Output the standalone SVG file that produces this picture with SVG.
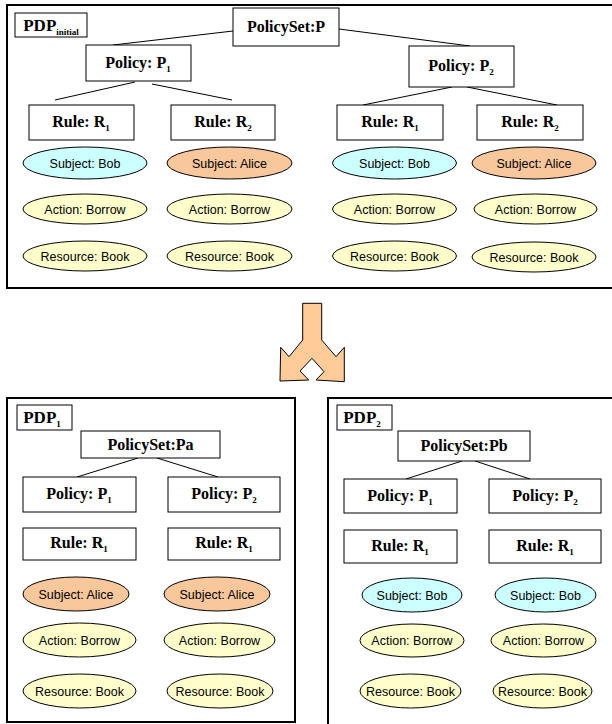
<svg xmlns="http://www.w3.org/2000/svg" width="612" height="724" viewBox="0 0 612 724">
<style>
.frame{fill:none;stroke:#000;stroke-width:2}
.box{fill:#fff;stroke:#000;stroke-width:1}
.bt{font-family:"Liberation Serif",serif;font-weight:bold;font-size:16px;text-anchor:middle;fill:#000}
.sub{font-size:9px}
.et{font-family:"Liberation Sans",Arial,sans-serif;font-size:12.5px;text-anchor:middle;fill:#000}
.bob{fill:#ccffff;stroke:#000;stroke-width:1}
.alice{fill:#f9c79c;stroke:#000;stroke-width:1}
.attr{fill:#ffffcc;stroke:#000;stroke-width:1}
.conn{stroke:#000;stroke-width:1;fill:none}
</style>
<rect width="612" height="724" fill="#fff"/>

<!-- frames -->
<rect class="frame" x="7" y="5" width="610" height="283"/>
<rect class="frame" x="7" y="398" width="288" height="324"/>
<rect class="frame" x="328" y="398" width="290" height="340"/>

<!-- connectors -->
<g id="connectors">
<line class="conn" x1="233" y1="31" x2="113" y2="45"/>
<line class="conn" x1="339" y1="29" x2="470" y2="46"/>
<line class="conn" x1="135" y1="82" x2="55" y2="100"/>
<line class="conn" x1="152" y1="84" x2="232" y2="100"/>
<line class="conn" x1="452" y1="87" x2="363" y2="105"/>
<line class="conn" x1="467" y1="87" x2="557" y2="105"/>
<line class="conn" x1="138" y1="458" x2="77" y2="477"/>
<line class="conn" x1="157" y1="458" x2="218" y2="477"/>
<line class="conn" x1="462" y1="461" x2="406" y2="479"/>
<line class="conn" x1="475" y1="461" x2="530" y2="479"/>
</g>

<!-- top PDP -->
<g id="pdp-initial-label">
<rect class="box" x="15" y="13" width="72" height="24"/>
<text class="bt" x="51" y="31" style="font-size:17px">PDP<tspan class="sub" dy="4">initial</tspan></text>
</g>
<g id="policyset-p">
<rect class="box" x="233" y="8" width="106" height="38"/>
<text class="bt" x="286" y="32">PolicySet:P</text>
</g>
<g id="policy-p1">
<rect class="box" x="86" y="45" width="105" height="36"/>
<text class="bt" x="138" y="68">Policy: P<tspan class="sub" dy="4">1</tspan></text>
</g>
<g id="policy-p2">
<rect class="box" x="409" y="46" width="105" height="41"/>
<text class="bt" x="461" y="71">Policy: P<tspan class="sub" dy="4">2</tspan></text>
</g>
<g id="rule-a1">
<rect class="box" x="29" y="105" width="105" height="35"/>
<text class="bt" x="81" y="127">Rule: R<tspan class="sub" dy="4">1</tspan></text>
</g>
<g id="rule-a2">
<rect class="box" x="171" y="105" width="104" height="35"/>
<text class="bt" x="223" y="127">Rule: R<tspan class="sub" dy="4">2</tspan></text>
</g>
<g id="rule-b1">
<rect class="box" x="337" y="105" width="106" height="35"/>
<text class="bt" x="390" y="127">Rule: R<tspan class="sub" dy="4">1</tspan></text>
</g>
<g id="rule-b2">
<rect class="box" x="477" y="105" width="106" height="35"/>
<text class="bt" x="530" y="127">Rule: R<tspan class="sub" dy="4">2</tspan></text>
</g>

<g id="subj-a1"><ellipse class="bob" cx="85" cy="163" rx="62" ry="16"/><text class="et" x="85" y="167.5">Subject: Bob</text></g>
<g id="subj-a2"><ellipse class="alice" cx="229.5" cy="163" rx="62.5" ry="16"/><text class="et" x="229.5" y="167.5">Subject: Alice</text></g>
<g id="subj-b1"><ellipse class="bob" cx="394.5" cy="163" rx="62" ry="16"/><text class="et" x="394.5" y="167.5">Subject: Bob</text></g>
<g id="subj-b2"><ellipse class="alice" cx="534" cy="163" rx="62" ry="16"/><text class="et" x="534" y="167.5">Subject: Alice</text></g>

<g id="act-a1"><ellipse class="attr" cx="85" cy="209" rx="62" ry="15"/><text class="et" x="85" y="213.5">Action: Borrow</text></g>
<g id="act-a2"><ellipse class="attr" cx="229.5" cy="209" rx="62.5" ry="15"/><text class="et" x="229.5" y="213.5">Action: Borrow</text></g>
<g id="act-b1"><ellipse class="attr" cx="394.5" cy="209" rx="62" ry="15"/><text class="et" x="394.5" y="213.5">Action: Borrow</text></g>
<g id="act-b2"><ellipse class="attr" cx="535.5" cy="209" rx="61.5" ry="15"/><text class="et" x="535.5" y="213.5">Action: Borrow</text></g>

<g id="res-a1"><ellipse class="attr" cx="85" cy="256" rx="62" ry="15"/><text class="et" x="85" y="260.5">Resource: Book</text></g>
<g id="res-a2"><ellipse class="attr" cx="229.5" cy="256" rx="62.5" ry="15"/><text class="et" x="229.5" y="260.5">Resource: Book</text></g>
<g id="res-b1"><ellipse class="attr" cx="394.5" cy="256" rx="62" ry="15"/><text class="et" x="394.5" y="260.5">Resource: Book</text></g>
<g id="res-b2"><ellipse class="attr" cx="534" cy="257" rx="62" ry="15"/><text class="et" x="534" y="261.5">Resource: Book</text></g>

<!-- split arrow -->
<g id="split-arrow">
<polygon points="302.7,303.3 321.7,303.3 321.7,340 336,356.7 344.3,347.3 344.3,381.7 316,380 324,371.7 312,358.3 300,371 308.7,380 280,381 280.7,347.3 289,356.7 302.7,340" fill="#ffcc99" stroke="#000" stroke-width="1"/>
</g>

<!-- PDP1 -->
<g id="pdp1-label">
<rect class="box" x="17" y="405" width="55" height="25"/>
<text class="bt" x="42" y="423" style="font-size:17px">PDP<tspan class="sub" dy="4">1</tspan></text>
</g>
<g id="policyset-pa">
<rect class="box" x="81" y="431" width="139" height="27"/>
<text class="bt" x="150.5" y="450">PolicySet:Pa</text>
</g>
<g id="pa-policy-p1">
<rect class="box" x="23" y="477" width="113" height="35"/>
<text class="bt" x="79" y="499">Policy: P<tspan class="sub" dy="4">1</tspan></text>
</g>
<g id="pa-policy-p2">
<rect class="box" x="168" y="477" width="112" height="35"/>
<text class="bt" x="224" y="499">Policy: P<tspan class="sub" dy="4">2</tspan></text>
</g>
<g id="pa-rule-1">
<rect class="box" x="23" y="528" width="113" height="32"/>
<text class="bt" x="79" y="548">Rule: R<tspan class="sub" dy="4">1</tspan></text>
</g>
<g id="pa-rule-2">
<rect class="box" x="168" y="528" width="112" height="32"/>
<text class="bt" x="224" y="548">Rule: R<tspan class="sub" dy="4">1</tspan></text>
</g>
<g id="pa-subj-1"><ellipse class="alice" cx="76" cy="594" rx="53" ry="17"/><text class="et" x="76" y="598.5">Subject: Alice</text></g>
<g id="pa-subj-2"><ellipse class="alice" cx="217" cy="594" rx="53" ry="17"/><text class="et" x="217" y="598.5">Subject: Alice</text></g>
<g id="pa-act-1"><ellipse class="attr" cx="79.5" cy="640" rx="56.5" ry="17"/><text class="et" x="79.5" y="644.5">Action: Borrow</text></g>
<g id="pa-act-2"><ellipse class="attr" cx="219.5" cy="640" rx="55.5" ry="17"/><text class="et" x="219.5" y="644.5">Action: Borrow</text></g>
<g id="pa-res-1"><ellipse class="attr" cx="79.5" cy="691" rx="56.5" ry="17"/><text class="et" x="79.5" y="695.5">Resource: Book</text></g>
<g id="pa-res-2"><ellipse class="attr" cx="220" cy="691" rx="53" ry="17"/><text class="et" x="220" y="695.5">Resource: Book</text></g>

<!-- PDP2 -->
<g id="pdp2-label">
<rect class="box" x="337" y="405" width="55" height="25"/>
<text class="bt" x="362" y="423" style="font-size:17px">PDP<tspan class="sub" dy="4">2</tspan></text>
</g>
<g id="policyset-pb">
<rect class="box" x="398" y="431" width="132" height="30"/>
<text class="bt" x="464" y="451">PolicySet:Pb</text>
</g>
<g id="pb-policy-p1">
<rect class="box" x="344" y="479" width="113" height="34"/>
<text class="bt" x="400" y="501">Policy: P<tspan class="sub" dy="4">1</tspan></text>
</g>
<g id="pb-policy-p2">
<rect class="box" x="489" y="479" width="112" height="34"/>
<text class="bt" x="545" y="501">Policy: P<tspan class="sub" dy="4">2</tspan></text>
</g>
<g id="pb-rule-1">
<rect class="box" x="344" y="530" width="113" height="33"/>
<text class="bt" x="400" y="551">Rule: R<tspan class="sub" dy="4">1</tspan></text>
</g>
<g id="pb-rule-2">
<rect class="box" x="489" y="530" width="112" height="33"/>
<text class="bt" x="545" y="551">Rule: R<tspan class="sub" dy="4">1</tspan></text>
</g>
<g id="pb-subj-1"><ellipse class="bob" cx="412" cy="595" rx="50" ry="17"/><text class="et" x="412" y="599.5">Subject: Bob</text></g>
<g id="pb-subj-2"><ellipse class="bob" cx="545.5" cy="595" rx="50.5" ry="17"/><text class="et" x="545.5" y="599.5">Subject: Bob</text></g>
<g id="pb-act-1"><ellipse class="attr" cx="412" cy="640.5" rx="52" ry="16.5"/><text class="et" x="412" y="645">Action: Borrow</text></g>
<g id="pb-act-2"><ellipse class="attr" cx="543.5" cy="640.5" rx="52.5" ry="16.5"/><text class="et" x="543.5" y="645">Action: Borrow</text></g>
<g id="pb-res-1"><ellipse class="attr" cx="410.5" cy="691" rx="50.5" ry="17"/><text class="et" x="410.5" y="695.5">Resource: Book</text></g>
<g id="pb-res-2"><ellipse class="attr" cx="542.5" cy="691" rx="49.5" ry="17"/><text class="et" x="542.5" y="695.5">Resource: Book</text></g>
</svg>
